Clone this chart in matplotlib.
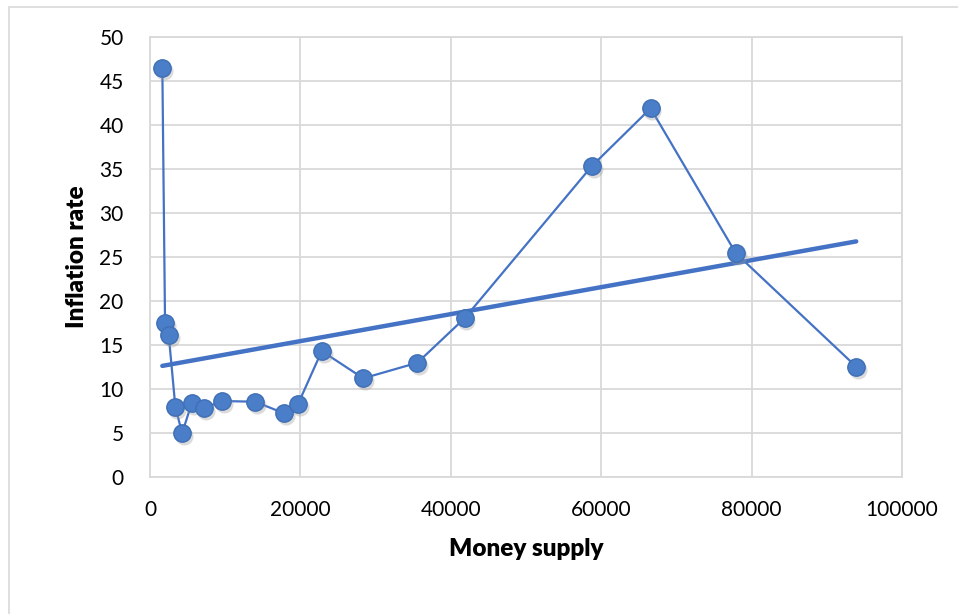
import matplotlib.pyplot as plt
import numpy as np
from matplotlib.patches import Rectangle

# values
money_supply = [1640, 2000, 2490, 3370, 4270, 5560, 7200, 9560, 14000, 17830,
                19690, 22840, 28360, 35560, 41830, 58760, 66570, 77910, 93910]
inflation_rate = [46.5, 17.5, 16.1, 7.95, 4.93, 8.4, 7.77, 8.6, 8.52, 7.2,
                  8.26, 14.28, 11.18, 12.95, 18.0, 35.3, 41.86, 25.39, 12.5]
x_ticks = [0, 20000, 40000, 60000, 80000, 100000]
y_ticks = [0, 5, 10, 15, 20, 25, 30, 35, 40, 45, 50]

plt.rcParams['font.family'] = ['Lato', 'DejaVu Sans']
blue = '#4472c4'

fig = plt.figure(figsize=(9.58, 6.14), dpi=100)
ax = fig.add_axes([150 / 958, 1 - 476.7 / 614, 752 / 958, 440 / 614])

# chart area border (runs off the right and bottom of the picture)
fig.patches.append(Rectangle((9 / 958, -0.1), 1.1, 1 - 7 / 614 + 0.1,
                             transform=fig.transFigure, fill=False,
                             edgecolor='#d9d9d9', linewidth=1.2))

x = np.array(money_supply)
y = np.array(inflation_rate)

# linear trendline
k, b = np.polyfit(x, y, 1)
ax.plot([x.min(), x.max()], [k * x.min() + b, k * x.max() + b],
        color=blue, linewidth=3.2, solid_capstyle='round', zorder=3)

ax.plot(x, y, color=blue, linewidth=1.6, zorder=4)
# soft shadow under the markers
ax.plot(x + 250, y - 0.35, linestyle='none', marker='o', markersize=13,
        color='#9a9a9a', alpha=0.35, markeredgewidth=0, zorder=4)
ax.plot(x, y, linestyle='none', marker='o', markersize=12.5,
        markerfacecolor='#4a7ec8', markeredgecolor='#3f6fb5',
        markeredgewidth=1, zorder=5)

ax.set_xlim(0, 100000)
ax.set_ylim(0, 50)
ax.set_xticks(x_ticks)
ax.set_yticks(y_ticks)
ax.grid(True, color='#d9d9d9', linewidth=1.3)
ax.set_axisbelow(True)
for s in ax.spines.values():
    s.set_color('#d9d9d9')
    s.set_linewidth(1.3)
ax.tick_params(length=0, labelsize=15, colors='black')
ax.tick_params(axis='x', pad=17)
ax.tick_params(axis='y', pad=19)

ax.set_xlabel('Money supply', fontsize=17.5, fontweight='heavy', labelpad=13)
ax.set_ylabel('Inflation rate', fontsize=17.5, fontweight='heavy', labelpad=8)

fig.savefig('out.png', dpi=100)
